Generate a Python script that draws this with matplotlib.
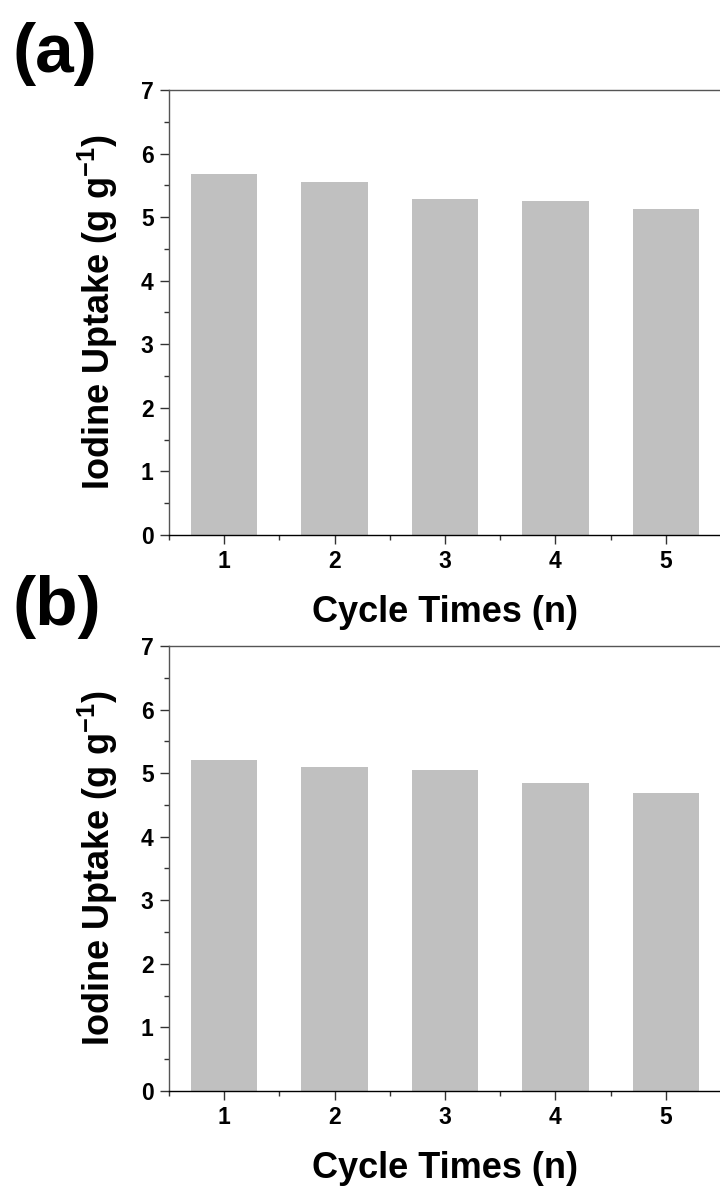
import numpy as np
import matplotlib
matplotlib.use('Agg')
import matplotlib.pyplot as plt
from matplotlib.ticker import MultipleLocator

plt.rcParams['font.family'] = ['Liberation Sans', 'DejaVu Sans']
plt.rcParams['font.weight'] = 'bold'
plt.rcParams['mathtext.fontset'] = 'custom'
plt.rcParams['mathtext.bf'] = 'Liberation Sans:bold'
plt.rcParams['mathtext.rm'] = 'Liberation Sans:bold'
plt.rcParams['mathtext.default'] = 'bf'

# data
cycles = [1, 2, 3, 4, 5]
uptake_a = [5.68, 5.55, 5.29, 5.25, 5.13]
uptake_b = [5.21, 5.09, 5.05, 4.85, 4.69]
panel_labels = ['(a)', '(b)']

fig = plt.figure(figsize=(7.2, 11.87), dpi=100)

axes_pos = [[0.2347, 0.5493, 0.7667, 0.3749],
            [0.2347, 0.0809, 0.7667, 0.3749]]
label_y = [0.9393, 0.4735]

for pos, vals, lab, ly in zip(axes_pos, [uptake_a, uptake_b], panel_labels, label_y):
    ax = fig.add_axes(pos)
    ax.bar(cycles, vals, width=0.6, color='#c0c0c0', edgecolor='none')
    ax.set_xlim(0.5, 5.5)
    ax.set_ylim(0, 7)
    ax.set_xticks(cycles)
    ax.xaxis.set_minor_locator(MultipleLocator(0.5))
    ax.yaxis.set_major_locator(MultipleLocator(1))
    ax.yaxis.set_minor_locator(MultipleLocator(0.5))
    ax.tick_params(which='major', direction='out', length=6.5, width=1,
                   labelsize=16.5, pad=4.5, color='#333333')
    ax.tick_params(which='minor', direction='out', length=3.5, width=1,
                   color='#333333')
    ax.spines['right'].set_visible(False)
    ax.spines['left'].set_color('#555555')
    ax.spines['top'].set_color('#555555')
    ax.spines['bottom'].set_color('black')
    for s in ['left', 'top', 'bottom']:
        ax.spines[s].set_linewidth(1)
    for t in ax.get_xticklabels() + ax.get_yticklabels():
        t.set_fontweight('bold')
    ax.set_ylabel('Iodine Uptake (g g$^{-1}$)', fontsize=26, fontweight='bold')
    ax.set_xlabel('Cycle Times (n)', fontsize=26, fontweight='bold')
    ax.yaxis.set_label_coords(-0.088, 0.5)
    ax.xaxis.set_label_coords(0.5, -0.135)
    ax.xaxis.label.set_va('top')
    fig.text(13 / 720, ly, lab, fontsize=50, fontweight='bold',
             ha='left', va='baseline')

fig.savefig('out.png', dpi=100)
